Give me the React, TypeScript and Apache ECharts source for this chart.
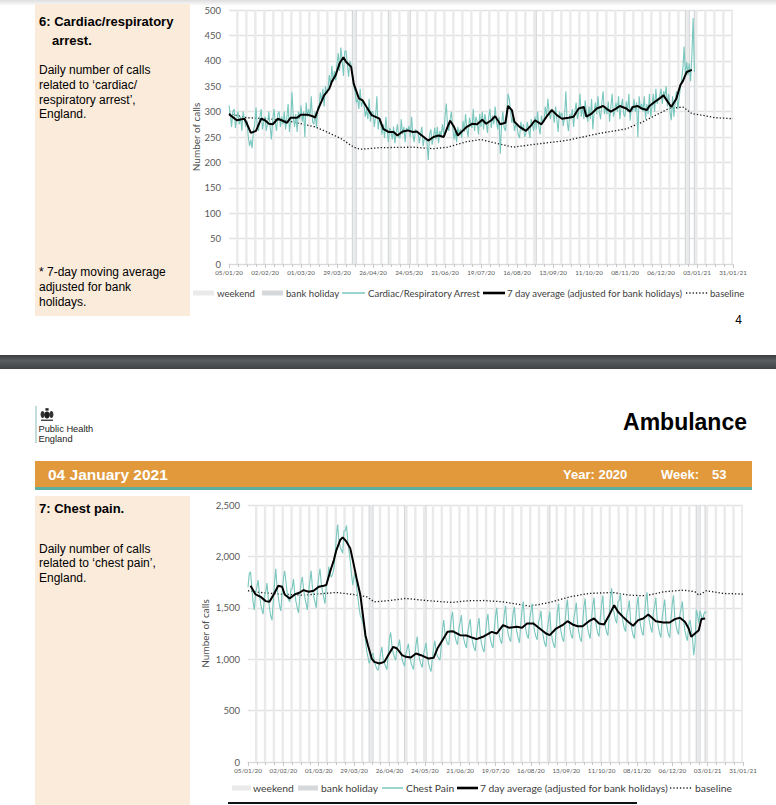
import React, { useEffect, useRef } from 'react';
import * as echarts from 'echarts';

// ---------- data ----------
const xTickLabels = ['05/01/20','02/02/20','01/03/20','29/03/20','26/04/20','24/05/20','21/06/20','19/07/20','16/08/20','13/09/20','11/10/20','08/11/20','06/12/20','03/01/21','31/01/21'];

// day index: 0 = Sunday 05/01/2020 ; Saturdays of each weekend
const weekendDays = [6,13,20,27,34,41,48,55,62,69,76,83,90,97,104,111,118,125,132,139,146,153,160,167,174,181,188,195,202,209,216,223,230,237,244,251,258,265,272,279,286,293,300,307,314,321,328,335,342,349,356,363,370,377,384,391];
const bankHolidayDays = [96, 99, 124, 141, 239, 355, 358, 362];

const cardiacDaily = [
  312,295,270,300,305,268,285, 300,275,290,262,300,285,270, 282,250,232,245,228,262,275,
  308,270,262,290,305,265,280, 290,262,278,300,270,245,285, 305,278,262,295,300,270,290,
  275,300,265,288,315,260,282, 338,290,270,295,260,300,285, 312,280,300,250,318,290,305,
  290,330,280,275,300,268,310, 305,338,320,345,310,350,335, 345,372,350,390,360,380,362,
  395,415,380,426,402,370,418, 420,395,368,400,392,375,350, 340,318,325,305,345,310,320,
  315,290,305,285,325,280,300, 300,270,290,330,265,285,278, 255,275,248,290,262,240,268,
  262,245,270,238,258,275,250, 248,285,255,270,240,268,262, 272,250,290,255,240,265,258,
  262,238,255,270,232,248,245, 240,205,255,265,235,250,268, 245,270,238,262,250,275,255,
  290,316,270,262,285,300,268, 245,262,240,270,255,265,248, 282,260,295,265,250,288,275,
  268,305,262,290,280,255,295, 270,300,265,295,280,258,290, 305,268,292,275,310,280,265,
  290,217,275,300,268,262,290, 335,325,300,278,290,262,275, 270,255,248,280,262,275,250,
  258,280,265,248,285,275,262, 290,265,300,270,255,292,278, 280,310,290,325,298,285,305,
  300,278,310,285,260,300,290, 298,272,290,340,280,262,295, 285,305,270,300,318,285,300,
  335,290,310,285,322,300,280, 310,285,325,265,300,318,295, 330,300,285,318,340,295,310,
  295,320,280,310,335,290,300, 318,300,330,285,310,325,295, 290,320,300,335,282,310,300,
  325,300,318,250,330,305,315, 300,330,285,315,295,335,290, 310,335,300,345,315,325,330,
  345,315,340,330,350,310,335, 300,283,330,290,318,340,305, 325,345,362,385,428,370,398,
  372,395,360,410,484,378
];

const cardiacAvg = [
  [0,295],[6,283],[12,286],[14,276],[17,258],[21,262],[25,286],[28,283],[31,276],[34,275],
  [38,286],[41,283],[45,278],[48,288],[53,288],[56,294],[61,294],[65,291],[67,288],[70,309],
  [74,332],[78,345],[80,359],[83,372],[86,395],[89,407],[91,398],[95,388],[97,355],[101,326],
  [104,322],[107,309],[111,293],[117,286],[120,266],[124,260],[128,260],[131,253],[135,261],
  [139,263],[143,260],[146,261],[150,253],[155,243],[159,250],[163,253],[167,250],[170,270],
  [172,282],[175,270],[178,253],[182,263],[185,270],[189,276],[193,275],[197,284],[200,276],
  [204,283],[207,291],[211,275],[215,278],[217,311],[220,303],[222,280],[226,270],[231,262],
  [235,273],[238,283],[243,275],[247,290],[251,303],[255,293],[259,286],[264,288],[268,290],
  [272,306],[276,309],[278,290],[282,296],[286,306],[291,311],[294,305],[297,300],[301,306],
  [304,311],[309,306],[312,300],[314,309],[318,311],[321,306],[325,303],[327,311],[331,319],
  [335,326],[338,332],[340,324],[344,309],[348,326],[351,352],[353,360],[356,378],[360,382]
];

const cardiacBaseline = [
  [0,296],[14,288],[30,286],[45,282],[58,275],[67,270],[76,260],[87,247],[97,230],[102,226],
  [118,229],[143,230],[159,227],[170,230],[185,241],[196,245],[211,236],[221,230],[239,236],
  [262,243],[288,257],[309,266],[322,280],[332,293],[342,306],[353,309],[360,296],[368,293],
  [378,288],[392,286]
];

const chestDaily = [
  1700,1830,1850,1700,1560,1480,1640, 1700,1770,1640,1540,1480,1440,1610,
  1650,1740,1600,1500,1420,1380,1560, 1740,1880,1700,1600,1520,1470,1640,
  1780,1860,1760,1650,1580,1560,1680, 1690,1780,1640,1560,1500,1450,1610,
  1740,1800,1690,1600,1540,1480,1660, 1760,1860,1700,1610,1560,1500,1680,
  1800,1880,1740,1660,1600,1540,1720, 1760,1900,1820,1800,1830,1880,2020,
  2200,2310,2150,2090,2060,2030,2250, 2250,2300,2150,2050,1950,1820,1720,
  1800,1850,1700,1600,1500,1420,1400, 1350,1300,1180,1080,1020,960,1000,
  1040,1060,980,940,910,890,960, 1060,1120,1000,960,930,900,1040,
  1200,1260,1130,1060,1020,990,1120, 1130,1190,1070,1000,960,930,1050,
  1100,1150,1040,970,930,900,1030, 1140,1220,1060,990,950,920,1050,
  1100,1160,1030,960,910,880,1010, 1110,1180,1070,1030,1010,990,1120,
  1290,1380,1250,1190,1150,1140,1280, 1400,1460,1290,1220,1170,1140,1300,
  1360,1430,1260,1190,1140,1110,1260, 1330,1390,1230,1160,1110,1080,1230,
  1330,1400,1220,1150,1100,1070,1240, 1370,1440,1270,1190,1140,1110,1280,
  1420,1500,1310,1230,1180,1150,1320, 1440,1520,1330,1250,1200,1170,1340,
  1450,1510,1330,1260,1200,1160,1340, 1480,1560,1370,1290,1230,1200,1380,
  1460,1540,1350,1270,1220,1190,1360, 1400,1470,1290,1210,1150,1120,1290,
  1380,1460,1270,1190,1140,1110,1280, 1460,1540,1340,1260,1200,1170,1350,
  1500,1580,1380,1290,1230,1200,1390, 1470,1550,1350,1260,1200,1170,1350,
  1510,1590,1380,1300,1240,1200,1390, 1520,1600,1400,1310,1250,1220,1400,
  1530,1620,1400,1320,1260,1230,1410, 1600,1690,1520,1440,1380,1350,1560,
  1570,1640,1440,1360,1300,1270,1440, 1490,1570,1370,1290,1230,1200,1380,
  1530,1610,1400,1320,1260,1230,1420, 1570,1650,1440,1360,1300,1260,1450,
  1520,1600,1390,1310,1250,1210,1400, 1500,1580,1380,1300,1240,1210,1390,
  1540,1620,1410,1330,1270,1240,1430, 1500,1560,1370,1280,1220,1180,1340,
  1380,1300,1200,1040,1150,1480,1430, 1350,1470,1420,1380,1440,1460,1450
];

const chestAvg = [
  [2,1715],[6,1630],[10,1607],[14,1565],[17,1558],[20,1623],[24,1714],[27,1705],[29,1630],
  [33,1591],[37,1630],[41,1649],[44,1672],[48,1656],[52,1666],[56,1705],[60,1714],[62,1721],
  [65,1851],[68,1964],[70,2062],[73,2159],[75,2185],[78,2143],[81,2078],[83,1964],[86,1786],
  [89,1623],[91,1429],[93,1234],[95,1136],[98,1006],[100,974],[104,958],[108,974],[111,1039],
  [115,1120],[118,1104],[122,1039],[125,1023],[129,1016],[133,1055],[137,1039],[143,1006],
  [147,1013],[150,1104],[154,1185],[158,1266],[162,1273],[168,1234],[173,1230],[178,1208],
  [181,1195],[186,1218],[193,1266],[197,1250],[202,1331],[207,1305],[213,1315],[217,1305],
  [221,1347],[226,1347],[231,1298],[236,1250],[239,1234],[244,1298],[249,1331],[253,1370],
  [257,1338],[261,1321],[265,1321],[270,1370],[274,1396],[278,1347],[282,1338],[286,1428],
  [290,1526],[293,1461],[297,1412],[301,1364],[305,1325],[309,1380],[313,1396],[317,1435],
  [319,1412],[323,1370],[329,1357],[334,1357],[338,1390],[342,1403],[346,1364],[349,1299],
  [351,1218],[354,1250],[357,1282],[359,1390],[362,1396]
];

const chestBaseline = [
  [0,1666],[10,1649],[25,1633],[44,1623],[57,1636],[70,1649],[83,1630],[94,1607],[100,1558],
  [110,1568],[125,1591],[141,1571],[162,1552],[173,1568],[186,1571],[202,1558],[223,1516],
  [239,1552],[255,1607],[270,1640],[289,1649],[302,1623],[315,1617],[329,1656],[345,1672],
  [354,1656],[357,1623],[363,1666],[376,1640],[392,1633]
];

// ---------- styles ----------
const ARIAL = '"Liberation Sans", Arial, sans-serif';
const CAL = 'Lato, "Open Sans", sans-serif';
const TEAL = '#79C7BE';
const WEEKEND = '#EAEAEA';
const BANKHOL = '#D6D9DC';
const BEIGE = '#FBEBDB';

const fmtThousands = (v: number) =>
  v >= 1000 ? `${Math.floor(v / 1000)},${String(v % 1000).padStart(3, '0')}` : String(v);

function stripeSeries(idx: number, days: number[], w0: number, w1: number, color: string, yMax: number) {
  return {
    type: 'custom',
    xAxisIndex: idx,
    yAxisIndex: idx,
    silent: true,
    z: 1,
    data: days.map((d) => [d, 0]),
    encode: { x: 0, y: 1 },
    renderItem: (params: any, api: any) => {
      const d = api.value(0);
      const a = api.coord([Math.max(0, d - w0), yMax]);
      const b = api.coord([Math.min(392, d + w1), 0]);
      return {
        type: 'rect',
        shape: { x: a[0], y: a[1], width: b[0] - a[0], height: b[1] - a[1] },
        style: { fill: color },
      };
    },
  };
}

function xAxisFor(idx: number) {
  return {
    type: 'value',
    gridIndex: idx,
    min: 0,
    max: 392,
    interval: 28,
    axisLine: { show: true, lineStyle: { color: '#D9D9D9', width: 1 } },
    axisTick: { show: true, length: 4, lineStyle: { color: '#C8C8C8' } },
    minorTick: { show: true, splitNumber: 4, length: 3, lineStyle: { color: '#C8C8C8' } },
    splitLine: { show: false },
    minorSplitLine: { show: false },
    axisLabel: {
      formatter: (v: number) => xTickLabels[Math.round(v / 28)] || '',
      fontSize: 6.3,
      color: '#595959',
      fontFamily: CAL,
      margin: 5,
      showMinLabel: true,
      showMaxLabel: true,
    },
  };
}

function yAxisFor(idx: number, max: number, interval: number, gap: number, fmt: (v: number) => string) {
  return {
    type: 'value',
    gridIndex: idx,
    min: 0,
    max,
    interval,
    name: 'Number of calls',
    nameLocation: 'middle',
    nameRotate: 90,
    nameGap: gap,
    nameMoveOverlap: false,
    nameTextStyle: { fontSize: 10, color: '#4D4D4D', fontFamily: CAL },
    axisLine: { show: false },
    axisTick: { show: false },
    splitLine: { show: true, lineStyle: { color: '#E2E2E2', width: 1.3 } },
    axisLabel: { fontSize: 9.5, color: '#595959', fontFamily: CAL, margin: 8, formatter: fmt },
  };
}

function lineSeries(idx: number, data: any[], color: string, width: number, z: number, dash?: any) {
  return {
    type: 'line',
    xAxisIndex: idx,
    yAxisIndex: idx,
    data,
    showSymbol: false,
    symbol: 'none',
    silent: true,
    z,
    lineStyle: { color, width, type: dash || 'solid', cap: 'butt' },
  };
}

function txt(text: string, x: number, y: number, font: string, fill = '#000', align = 'left') {
  return {
    type: 'text',
    x,
    y,
    silent: true,
    style: { text, font, fill, textAlign: align, textVerticalAlign: 'middle' },
  };
}

function legend(y: number, fs: number, items: any) {
  const font = `${fs}px ${CAL}`;
  const col = '#404040';
  return [
    { type: 'rect', silent: true, shape: { x: items.wk[0], y: y - 2.5, width: items.wk[1], height: 5 }, style: { fill: WEEKEND } },
    txt('weekend', items.wk[2], y, font, col),
    { type: 'rect', silent: true, shape: { x: items.bh[0], y: y - 2.5, width: items.bh[1], height: 5 }, style: { fill: BANKHOL } },
    txt('bank holiday', items.bh[2], y, font, col),
    { type: 'line', silent: true, shape: { x1: items.dl[0], y1: y, x2: items.dl[1], y2: y }, style: { stroke: TEAL, lineWidth: 1.5 } },
    txt(items.dl[3], items.dl[2], y, font, col),
    { type: 'line', silent: true, shape: { x1: items.av[0], y1: y, x2: items.av[1], y2: y }, style: { stroke: '#000', lineWidth: 2.6 } },
    txt('7 day average (adjusted for bank holidays)', items.av[2], y, font, col),
    { type: 'line', silent: true, shape: { x1: items.bl[0], y1: y, x2: items.bl[1], y2: y }, style: { stroke: '#222', lineWidth: 1.3, lineDash: [1.3, 2] } },
    txt('baseline', items.bl[2], y, font, col),
  ];
}

export default function App() {
  const ref = useRef<HTMLDivElement>(null);

  useEffect(() => {
    if (!ref.current) return;
    const chart = echarts.init(ref.current, undefined, { renderer: 'svg' });

    const F12 = `12px ${ARIAL}`;
    const B13 = `bold 13px ${ARIAL}`;
    const W13 = `bold 13px ${ARIAL}`;

    const graphics: any[] = [
      // top faint shadow
      {
        type: 'rect', silent: true, shape: { x: 0, y: 0, width: 776, height: 6 },
        style: { fill: new echarts.graphic.LinearGradient(0, 0, 0, 1, [
          { offset: 0, color: '#DEDEDE' }, { offset: 1, color: '#FFFFFF' }]) },
      },
      // page 1 side panel
      { type: 'rect', silent: true, shape: { x: 35, y: 4, width: 155, height: 312 }, style: { fill: BEIGE } },
      txt('6: Cardiac/respiratory', 39, 21, B13),
      txt('arrest.', 52, 40, B13),
      txt('Daily number of calls', 39, 70, F12),
      txt('related to \u2018cardiac/', 39, 85, F12),
      txt('respiratory arrest\u2019,', 39, 100, F12),
      txt('England.', 39, 114, F12),
      txt('* 7-day moving average', 39, 272, F12),
      txt('adjusted for bank', 39, 287, F12),
      txt('holidays.', 39, 302, F12),
      txt('4', 742, 320, `12px ${ARIAL}`, '#000', 'right'),
      // separator
      {
        type: 'rect', silent: true, shape: { x: 0, y: 355, width: 776, height: 14 },
        style: { fill: new echarts.graphic.LinearGradient(0, 0, 0, 1, [
          { offset: 0, color: '#3A3D40' }, { offset: 0.4, color: '#5B5E61' }, { offset: 1, color: '#404346' }]) },
      },
      // logo (crest + name)
      { type: 'line', silent: true, shape: { x1: 36, y1: 406, x2: 36, y2: 443 }, style: { stroke: '#6AAAA6', lineWidth: 0.8 } },
      { type: 'ellipse', silent: true, shape: { cx: 42.6, cy: 414.5, rx: 2, ry: 3.4 }, style: { fill: '#333' } },
      { type: 'ellipse', silent: true, shape: { cx: 51.4, cy: 414.5, rx: 2, ry: 3.4 }, style: { fill: '#333' } },
      { type: 'ellipse', silent: true, shape: { cx: 47, cy: 415, rx: 2.8, ry: 3.4 }, style: { fill: '#1E1E1E' } },
      { type: 'rect', silent: true, shape: { x: 45.4, y: 408.2, width: 3.2, height: 2.4 }, style: { fill: '#222' } },
      { type: 'rect', silent: true, shape: { x: 41, y: 419.6, width: 12, height: 1.3 }, style: { fill: '#333' } },
      txt('Public Health', 38.5, 428.5, `9.3px ${ARIAL}`, '#222'),
      txt('England', 38.5, 438.5, `9.3px ${ARIAL}`, '#222'),
      txt('Ambulance', 747, 422, `bold 23px ${ARIAL}`, '#000', 'right'),
      // orange bar
      { type: 'rect', silent: true, shape: { x: 35, y: 461, width: 717, height: 26 }, style: { fill: '#E1993C' } },
      { type: 'rect', silent: true, shape: { x: 35, y: 487, width: 717, height: 3 }, style: { fill: '#5DAE9E' } },
      txt('04 January 2021', 48, 474, `bold 15.5px ${ARIAL}`, '#FFFFFF'),
      txt('Year: 2020', 563, 474, W13, '#FFFFFF'),
      txt('Week:', 661, 474, W13, '#FFFFFF'),
      txt('53', 712, 474, W13, '#FFFFFF'),
      // page 2 side panel
      { type: 'rect', silent: true, shape: { x: 35, y: 496, width: 155, height: 309 }, style: { fill: BEIGE } },
      txt('7: Chest pain.', 39, 508, B13),
      txt('Daily number of calls', 39, 549, F12),
      txt('related to \u2018chest pain\u2019,', 39, 563, F12),
      txt('England.', 39, 578, F12),
      // bottom rule
      { type: 'rect', silent: true, shape: { x: 228, y: 802, width: 409, height: 2 }, style: { fill: '#111' } },
      ...legend(293, 9.6, {
        wk: [193, 21, 217],
        bh: [262, 21, 286],
        dl: [342, 365, 368, 'Cardiac/Respiratory Arrest'],
        av: [483, 505, 507],
        bl: [686, 708, 710],
      }),
      ...legend(788, 10.3, {
        wk: [232, 19, 253],
        bh: [298, 20, 321],
        dl: [382, 403, 406, 'Chest Pain'],
        av: [457, 478, 480],
        bl: [670, 692, 695],
      }),
    ];

    const option: any = {
      animation: false,
      backgroundColor: '#FFFFFF',
      textStyle: { fontFamily: CAL },
      grid: [
        { left: 229, top: 10, width: 504, height: 254, outerBoundsMode: 'none', containLabel: false },
        { left: 248, top: 505, width: 495, height: 257, outerBoundsMode: 'none', containLabel: false },
      ],
      xAxis: [xAxisFor(0), xAxisFor(1)],
      yAxis: [
        yAxisFor(0, 500, 50, 28, (v: number) => String(v)),
        yAxisFor(1, 2500, 500, 38, fmtThousands),
      ],
      series: [
        stripeSeries(0, weekendDays, 0.45, 1.45, WEEKEND, 500),
        stripeSeries(0, bankHolidayDays, 0.5, 0.5, BANKHOL, 500),
        lineSeries(0, cardiacBaseline, '#1A1A1A', 1.3, 3, [1.3, 2]),
        lineSeries(0, cardiacDaily.map((v, i) => [i, v]), TEAL, 1.1, 4),
        lineSeries(0, cardiacAvg, '#000000', 2, 5),
        stripeSeries(1, weekendDays, 0.45, 1.45, WEEKEND, 2500),
        stripeSeries(1, bankHolidayDays, 0.5, 0.5, BANKHOL, 2500),
        lineSeries(1, chestBaseline, '#1A1A1A', 1.3, 3, [1.3, 2]),
        lineSeries(1, chestDaily.map((v, i) => [i, v]), TEAL, 1.1, 4),
        lineSeries(1, chestAvg, '#000000', 2, 5),
      ],
      graphic: graphics,
    };

    chart.setOption(option);
    return () => chart.dispose();
  }, []);

  return (
    <div
      ref={ref}
      style={{ position: 'absolute', left: 0, top: 0, width: 776, height: 805, background: '#fff' }}
    />
  );
}
